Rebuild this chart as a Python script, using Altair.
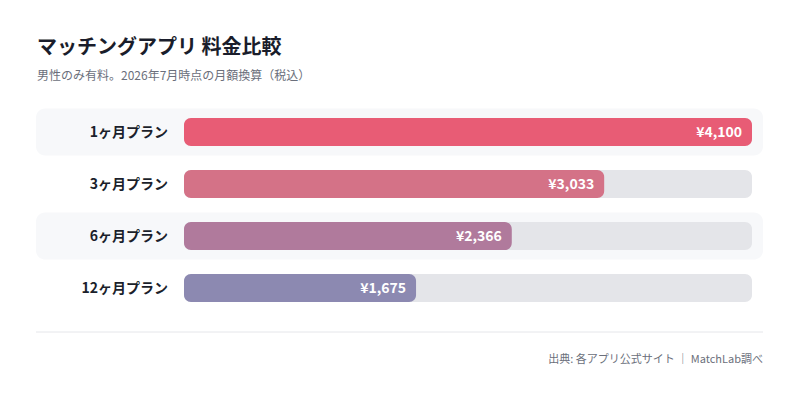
import altair as alt
import pandas as pd

# ---- data ----
plans = ["1ヶ月プラン", "3ヶ月プラン", "6ヶ月プラン", "12ヶ月プラン"]
prices = [4100, 3033, 2366, 1675]
price_labels = ["¥4,100", "¥3,033", "¥2,366", "¥1,675"]
shaded_rows = ["1ヶ月プラン", "6ヶ月プラン"]

title_text = "マッチングアプリ 料金比較"
subtitle_text = "男性のみ有料。2026年7月時点の月額換算（税込）"
footer_text = "出典: 各アプリ公式サイト ｜ MatchLab調べ"

# ---- styles ----
palette = ["#e85c75", "#d47287", "#b07a9c", "#8c89b1"]
FONT = "Noto Sans CJK JP"

df = pd.DataFrame({
    "plan": plans,
    "price": prices,
    "label": price_labels,
    "zero": [0] * len(plans),
    "max": [max(prices)] * len(plans),
})
bands = df[df["plan"].isin(shaded_rows)]

W, H = 784, 385
xs = alt.Scale(domain=[0, max(prices)], range=[176, 744], nice=False, zero=True)
ys = alt.Scale(domain=plans, range=[98, 306], paddingInner=0, paddingOuter=0)

Y = alt.Y("plan:N", scale=ys, axis=None, sort=plans)

band_layer = alt.Chart(bands).mark_bar(
    color="#f7f8fa", height=47, cornerRadius=9
).encode(
    x=alt.value(28), x2=alt.value(755), y=Y
)

track = alt.Chart(df).mark_bar(
    color="#e4e5e9", height=28, cornerRadius=7
).encode(
    x=alt.X("zero:Q", scale=xs, axis=None), x2="max:Q", y=Y
)

bars = alt.Chart(df).mark_bar(height=28, cornerRadius=7).encode(
    x=alt.X("zero:Q", scale=xs, axis=None),
    x2="price:Q",
    y=Y,
    color=alt.Color("plan:N", scale=alt.Scale(domain=plans, range=palette), legend=None),
)

value_text = alt.Chart(df).mark_text(
    align="right", baseline="middle", dx=-10, dy=1, font=FONT, fontSize=14,
    fontWeight="bold", color="white"
).encode(
    x=alt.X("price:Q", scale=xs, axis=None), y=Y, text="label:N"
)

plan_text = alt.Chart(df).mark_text(
    align="right", baseline="middle", dy=1, font=FONT, fontSize=14,
    fontWeight="bold", color="#1b1f2b"
).encode(
    x=alt.value(160), y=Y, text="plan:N"
)

one = pd.DataFrame({"title": [title_text], "subtitle": [subtitle_text], "footer": [footer_text]})

title_layer = alt.Chart(one).mark_text(
    align="left", baseline="alphabetic", font=FONT, fontSize=20, fontWeight="bold",
    color="#1a1d2b"
).encode(x=alt.value(29), y=alt.value(46), text="title:N")

subtitle_layer = alt.Chart(one).mark_text(
    align="left", baseline="alphabetic", font=FONT, fontSize=12, color="#6b6f7b"
).encode(x=alt.value(29), y=alt.value(72), text="subtitle:N")

footer_layer = alt.Chart(one).mark_text(
    align="right", baseline="alphabetic", font=FONT, fontSize=11, color="#6b6f7b"
).encode(x=alt.value(755), y=alt.value(355), text="footer:N")

sep = alt.Chart(one).mark_rule(color="#e5e6ea", strokeWidth=1).encode(
    x=alt.value(28), x2=alt.value(755), y=alt.value(324)
)

chart = alt.layer(
    band_layer, track, bars, value_text, plan_text,
    title_layer, subtitle_layer, sep, footer_layer
).properties(
    width=W, height=H, autosize=alt.AutoSizeParams(type="none"), padding=0,
    background="white"
).configure_view(stroke=None)

chart.save("out.html", embed_options={"renderer": "svg", "actions": False})
